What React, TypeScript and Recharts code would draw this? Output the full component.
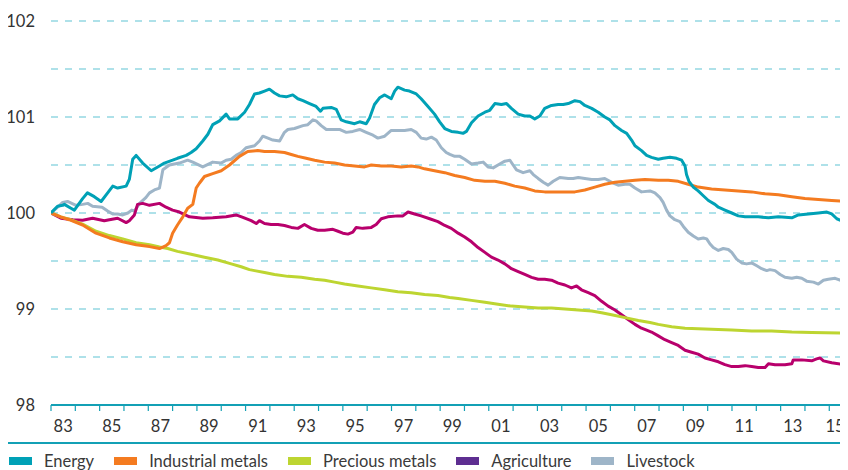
import React from 'react';
import { LineChart, Line, XAxis, YAxis, CartesianGrid, ReferenceLine } from 'recharts';

// ---- categories / axes ----
const yearTicks = [1983, 1984, 1985, 1986, 1987, 1988, 1989, 1990, 1991, 1992, 1993, 1994, 1995, 1996, 1997, 1998, 1999, 2000, 2001, 2002, 2003, 2004, 2005, 2006, 2007, 2008, 2009, 2010, 2011, 2012, 2013, 2014, 2015];
const yearLabels = ['83', '85', '87', '89', '91', '93', '95', '97', '99', '01', '03', '05', '07', '09', '11', '13', '15'];
const labelYears = [1983, 1985, 1987, 1989, 1991, 1993, 1995, 1997, 1999, 2001, 2003, 2005, 2007, 2009, 2011, 2013, 2015];
const yTicks = [98, 98.5, 99, 99.5, 100, 100.5, 101, 101.5, 102];
const gridValues = [98.5, 99, 99.5, 100, 100.5, 101, 101.5, 102];
const xDomain: [number, number] = [1983, 2015.77];
const yDomain: [number, number] = [98, 102];

// ---- series (year, index) ----
const energy: [number, number][] = [[1983.0,100.0],[1983.27,100.07],[1983.48,100.08],[1983.55,100.09],[1983.82,100.05],[1983.96,100.03],[1984.3,100.15],[1984.5,100.21],[1984.78,100.17],[1985.06,100.12],[1985.33,100.21],[1985.54,100.28],[1985.74,100.26],[1986.09,100.28],[1986.22,100.35],[1986.36,100.56],[1986.5,100.60],[1986.77,100.52],[1987.12,100.44],[1987.46,100.49],[1987.66,100.52],[1988.0,100.55],[1988.2,100.57],[1988.56,100.60],[1988.76,100.63],[1988.97,100.67],[1989.24,100.75],[1989.45,100.82],[1989.65,100.92],[1989.93,100.96],[1990.2,101.03],[1990.34,100.98],[1990.68,100.98],[1990.96,101.05],[1991.16,101.13],[1991.37,101.24],[1991.57,101.25],[1991.78,101.27],[1991.98,101.29],[1992.19,101.25],[1992.4,101.22],[1992.67,101.21],[1992.94,101.23],[1993.15,101.19],[1993.36,101.17],[1993.63,101.14],[1993.9,101.11],[1994.08,101.06],[1994.18,101.09],[1994.52,101.10],[1994.73,101.08],[1994.93,100.97],[1995.14,100.95],[1995.48,100.93],[1995.69,100.95],[1995.96,100.93],[1996.1,100.99],[1996.3,101.13],[1996.51,101.2],[1996.72,101.23],[1996.99,101.19],[1997.13,101.27],[1997.26,101.31],[1997.54,101.28],[1997.74,101.27],[1998.02,101.24],[1998.22,101.19],[1998.5,101.11],[1998.77,101.03],[1998.98,100.95],[1999.19,100.88],[1999.46,100.85],[1999.74,100.84],[1999.94,100.83],[2000.08,100.85],[2000.29,100.94],[2000.56,101.01],[2000.84,101.05],[2001.04,101.07],[2001.25,101.14],[2001.52,101.13],[2001.73,101.14],[2001.93,101.09],[2002.21,101.03],[2002.48,101.01],[2002.69,101.01],[2002.89,100.98],[2003.1,101.01],[2003.3,101.09],[2003.58,101.12],[2003.85,101.13],[2004.06,101.13],[2004.27,101.14],[2004.54,101.17],[2004.75,101.16],[2004.95,101.12],[2005.23,101.09],[2005.5,101.05],[2005.77,101.0],[2005.98,100.97],[2006.19,100.91],[2006.46,100.86],[2006.67,100.83],[2006.87,100.76],[2007.01,100.7],[2007.28,100.65],[2007.49,100.6],[2007.69,100.58],[2007.97,100.56],[2008.17,100.57],[2008.45,100.58],[2008.72,100.57],[2008.93,100.55],[2009.07,100.49],[2009.13,100.40],[2009.23,100.33],[2009.41,100.27],[2009.61,100.23],[2009.82,100.18],[2010.03,100.13],[2010.3,100.09],[2010.44,100.06],[2010.71,100.03],[2010.99,100.0],[2011.26,99.97],[2011.54,99.96],[2012.08,99.96],[2012.5,99.95],[2012.91,99.96],[2013.46,99.95],[2013.73,99.98],[2014.14,99.99],[2014.55,100.0],[2014.9,100.01],[2015.1,99.99],[2015.31,99.94],[2015.51,99.92],[2015.65,99.92]];

const industrialMetals: [number, number][] = [[1983.0,100.0],[1983.4,99.96],[1983.75,99.93],[1984.3,99.875],[1984.85,99.79],[1985.4,99.74],[1985.95,99.70],[1986.5,99.67],[1987.05,99.65],[1987.46,99.63],[1987.73,99.66],[1987.87,99.69],[1988.0,99.79],[1988.2,99.875],[1988.42,99.96],[1988.62,100.05],[1988.83,100.09],[1988.97,100.26],[1989.1,100.31],[1989.31,100.38],[1989.65,100.41],[1990.0,100.44],[1990.34,100.50],[1990.75,100.59],[1991.09,100.64],[1991.5,100.65],[1991.78,100.64],[1992.19,100.64],[1992.6,100.63],[1992.88,100.61],[1993.15,100.59],[1993.49,100.57],[1993.84,100.55],[1994.25,100.53],[1994.66,100.52],[1995.07,100.50],[1995.48,100.49],[1995.89,100.48],[1996.17,100.50],[1996.58,100.49],[1996.99,100.49],[1997.4,100.48],[1997.81,100.49],[1998.09,100.48],[1998.36,100.46],[1998.77,100.44],[1999.19,100.42],[1999.6,100.39],[2000.01,100.37],[2000.42,100.34],[2000.84,100.33],[2001.25,100.33],[2001.66,100.31],[2002.07,100.28],[2002.48,100.26],[2002.89,100.23],[2003.3,100.22],[2003.72,100.22],[2004.13,100.22],[2004.54,100.22],[2004.95,100.24],[2005.36,100.27],[2005.77,100.30],[2006.19,100.32],[2006.6,100.33],[2007.01,100.34],[2007.42,100.35],[2007.97,100.34],[2008.38,100.34],[2008.79,100.33],[2009.2,100.30],[2009.61,100.27],[2010.16,100.25],[2010.71,100.24],[2011.26,100.23],[2011.81,100.22],[2012.36,100.20],[2012.91,100.19],[2013.46,100.17],[2014.0,100.15],[2014.55,100.14],[2015.1,100.13],[2015.65,100.12]];

const preciousMetals: [number, number][] = [[1983.0,100.0],[1983.4,99.96],[1983.75,99.935],[1984.3,99.885],[1984.85,99.81],[1985.4,99.765],[1985.95,99.73],[1986.5,99.69],[1987.05,99.67],[1987.46,99.645],[1987.8,99.63],[1988.2,99.60],[1988.76,99.57],[1989.31,99.54],[1989.86,99.51],[1990.41,99.47],[1990.82,99.44],[1991.16,99.41],[1991.37,99.40],[1991.78,99.38],[1992.19,99.36],[1992.74,99.34],[1993.29,99.33],[1993.84,99.31],[1994.25,99.30],[1994.66,99.28],[1995.07,99.26],[1995.62,99.24],[1996.17,99.22],[1996.72,99.20],[1997.26,99.18],[1997.81,99.17],[1998.36,99.15],[1998.91,99.14],[1999.39,99.12],[1999.74,99.11],[2000.29,99.09],[2000.84,99.07],[2001.38,99.05],[2001.93,99.03],[2002.48,99.02],[2003.03,99.01],[2003.58,99.01],[2004.13,99.0],[2004.68,98.99],[2005.23,98.98],[2005.64,98.96],[2006.05,98.94],[2006.6,98.91],[2007.15,98.88],[2007.63,98.86],[2007.97,98.84],[2008.52,98.815],[2009.07,98.80],[2009.61,98.795],[2010.16,98.79],[2010.99,98.78],[2011.81,98.77],[2012.63,98.77],[2013.46,98.76],[2014.28,98.755],[2015.65,98.75]];

const agriculture: [number, number][] = [[1983.0,100.0],[1983.41,99.945],[1983.9,99.93],[1984.3,99.925],[1984.71,99.945],[1985.19,99.92],[1985.4,99.93],[1985.74,99.945],[1986.09,99.90],[1986.22,99.92],[1986.43,99.98],[1986.56,100.09],[1986.77,100.10],[1987.05,100.08],[1987.46,100.10],[1987.73,100.06],[1988.0,100.03],[1988.28,100.01],[1988.69,99.96],[1989.24,99.945],[1989.65,99.95],[1990.2,99.96],[1990.61,99.98],[1990.89,99.955],[1991.23,99.92],[1991.44,99.89],[1991.57,99.92],[1991.78,99.89],[1992.05,99.88],[1992.33,99.88],[1992.6,99.87],[1992.88,99.85],[1993.15,99.84],[1993.42,99.88],[1993.7,99.84],[1993.97,99.82],[1994.25,99.82],[1994.59,99.83],[1994.8,99.81],[1995.0,99.79],[1995.21,99.78],[1995.41,99.80],[1995.55,99.85],[1995.82,99.84],[1996.17,99.85],[1996.37,99.88],[1996.58,99.94],[1996.85,99.96],[1997.26,99.97],[1997.47,99.97],[1997.68,100.01],[1997.95,99.99],[1998.22,99.97],[1998.57,99.94],[1998.91,99.91],[1999.19,99.87],[1999.46,99.84],[1999.74,99.79],[2000.01,99.75],[2000.29,99.70],[2000.56,99.64],[2000.84,99.59],[2001.11,99.54],[2001.38,99.51],[2001.66,99.47],[2001.93,99.42],[2002.21,99.39],[2002.48,99.36],[2002.76,99.33],[2003.03,99.31],[2003.3,99.31],[2003.58,99.30],[2003.85,99.27],[2004.13,99.25],[2004.4,99.22],[2004.61,99.24],[2004.81,99.20],[2005.09,99.17],[2005.36,99.14],[2005.64,99.08],[2005.91,99.03],[2006.19,98.99],[2006.46,98.94],[2006.73,98.89],[2007.01,98.84],[2007.28,98.80],[2007.49,98.78],[2007.69,98.76],[2007.97,98.72],[2008.24,98.68],[2008.52,98.65],[2008.79,98.62],[2009.07,98.57],[2009.34,98.55],[2009.61,98.53],[2009.89,98.49],[2010.16,98.47],[2010.44,98.45],[2010.71,98.42],[2010.99,98.40],[2011.26,98.40],[2011.54,98.41],[2011.81,98.40],[2012.08,98.39],[2012.36,98.39],[2012.5,98.43],[2012.77,98.42],[2013.18,98.42],[2013.46,98.43],[2013.52,98.47],[2013.87,98.47],[2014.28,98.46],[2014.48,98.48],[2014.62,98.49],[2014.76,98.46],[2015.1,98.44],[2015.65,98.42]];

const livestock: [number, number][] = [[1983.0,100.0],[1983.27,100.06],[1983.48,100.11],[1983.68,100.12],[1984.03,100.08],[1984.3,100.09],[1984.51,100.10],[1984.71,100.07],[1985.1,100.06],[1985.33,100.02],[1985.54,99.99],[1985.74,99.99],[1985.95,99.98],[1986.16,100.0],[1986.32,100.03],[1986.43,100.02],[1986.64,100.10],[1986.9,100.16],[1987.05,100.21],[1987.25,100.24],[1987.46,100.26],[1987.6,100.45],[1987.87,100.50],[1988.28,100.52],[1988.62,100.55],[1988.83,100.53],[1989.24,100.48],[1989.65,100.53],[1989.99,100.52],[1990.2,100.55],[1990.41,100.56],[1990.61,100.60],[1990.82,100.63],[1991.02,100.68],[1991.37,100.70],[1991.57,100.75],[1991.71,100.80],[1991.92,100.78],[1992.12,100.76],[1992.4,100.75],[1992.6,100.84],[1992.74,100.87],[1993.01,100.88],[1993.36,100.91],[1993.56,100.92],[1993.77,100.97],[1993.9,100.96],[1994.11,100.91],[1994.32,100.87],[1994.59,100.87],[1994.86,100.87],[1995.14,100.84],[1995.41,100.85],[1995.69,100.87],[1995.96,100.84],[1996.24,100.81],[1996.44,100.78],[1996.72,100.80],[1996.99,100.86],[1997.26,100.86],[1997.54,100.86],[1997.81,100.87],[1998.02,100.84],[1998.22,100.78],[1998.43,100.77],[1998.64,100.79],[1998.84,100.76],[1999.05,100.68],[1999.25,100.63],[1999.4,100.61],[1999.6,100.59],[1999.81,100.59],[2000.01,100.56],[2000.29,100.51],[2000.56,100.52],[2000.77,100.53],[2000.97,100.48],[2001.18,100.47],[2001.45,100.51],[2001.66,100.54],[2001.87,100.55],[2002.0,100.50],[2002.14,100.45],[2002.41,100.42],[2002.69,100.44],[2002.83,100.40],[2003.03,100.36],[2003.24,100.32],[2003.44,100.29],[2003.65,100.33],[2003.92,100.37],[2004.27,100.36],[2004.47,100.36],[2004.68,100.37],[2004.95,100.36],[2005.23,100.35],[2005.5,100.35],[2005.77,100.36],[2006.05,100.32],[2006.32,100.29],[2006.6,100.30],[2006.8,100.30],[2007.01,100.26],[2007.28,100.22],[2007.63,100.23],[2007.83,100.21],[2008.04,100.16],[2008.17,100.11],[2008.31,100.03],[2008.45,99.97],[2008.65,99.93],[2008.86,99.91],[2009.0,99.86],[2009.2,99.80],[2009.41,99.76],[2009.61,99.73],[2009.82,99.74],[2009.96,99.73],[2010.09,99.68],[2010.23,99.64],[2010.44,99.61],[2010.64,99.63],[2010.85,99.62],[2010.99,99.59],[2011.19,99.52],[2011.4,99.48],[2011.6,99.47],[2011.81,99.48],[2012.02,99.45],[2012.22,99.42],[2012.43,99.40],[2012.56,99.41],[2012.77,99.40],[2012.98,99.36],[2013.18,99.33],[2013.46,99.32],[2013.66,99.33],[2013.87,99.32],[2014.07,99.29],[2014.35,99.28],[2014.55,99.26],[2014.76,99.30],[2014.96,99.31],[2015.24,99.32],[2015.44,99.30],[2015.65,99.34]];

// ---- legend ----
const legendNames = ['Energy', 'Industrial metals', 'Precious metals', 'Agriculture', 'Livestock'];
const legendColors = ['#00a1b6', '#f47b20', '#bdd531', '#5e2e91', '#9eb5c8'];

const FONT = 'Lato, "Open Sans", sans-serif';
const TEAL = '#13a0b5';
const CHART_W = 848;
const CHART_H = 430;
const Y_W = 51;
const PX_PER_YEAR = (CHART_W - Y_W) / (xDomain[1] - xDomain[0]);

const toPoints = (arr: [number, number][]) => arr.map(([x, v]) => ({ x, v }));

const series = [
  { name: 'Livestock', data: toPoints(livestock), color: '#9eb5c8' },
  { name: 'Agriculture', data: toPoints(agriculture), color: '#b8006c' },
  { name: 'Precious metals', data: toPoints(preciousMetals), color: '#bdd531' },
  { name: 'Industrial metals', data: toPoints(industrialMetals), color: '#f47b20' },
  { name: 'Energy', data: toPoints(energy), color: '#00a1b6' },
];

// Label for a year is centred in that year's interval (between two year ticks)
const YearLabel = (props: any) => {
  const { x, y, payload } = props;
  const idx = labelYears.indexOf(payload.value);
  if (idx < 0) return <g />;
  const half = 13;
  const cx = Math.min(x + PX_PER_YEAR / 2, CHART_W - half);
  return (
    <text x={cx} y={y} dy="0.71em" textAnchor="middle" fontSize={16.5} fill="#333333" fontFamily={FONT}>
      {yearLabels[idx]}
    </text>
  );
};

const ChartLegend = () => (
  <div style={{ width: CHART_W - 8, marginLeft: 8, height: 32, fontFamily: FONT, paddingTop: 4, boxSizing: 'border-box' }}>
    <div style={{ height: 2, background: TEAL }} />
    <div style={{ display: 'flex', alignItems: 'center', paddingTop: 9, height: 25, boxSizing: 'border-box', paddingLeft: 1 }}>
      {legendNames.map((n, i) => (
        <div key={n} style={{ display: 'flex', alignItems: 'center', marginRight: 20 }}>
          <span style={{ display: 'inline-block', width: 23, height: 8, background: legendColors[i], marginRight: 12 }} />
          <span style={{ fontSize: 16.5, lineHeight: '16px', color: '#3a3a3a', whiteSpace: 'nowrap' }}>{n}</span>
        </div>
      ))}
    </div>
  </div>
);

export default function App() {
  return (
    <div style={{ width: CHART_W, marginLeft: -8, fontFamily: FONT }}>
      <LineChart width={CHART_W} height={CHART_H} margin={{ top: 13, right: 0, bottom: 0, left: 0 }}>
        <CartesianGrid vertical={false} horizontalValues={gridValues} stroke="#5ec3d4" strokeDasharray="7 7" strokeWidth={1.2} />
        <XAxis
          type="number"
          dataKey="x"
          domain={xDomain}
          ticks={yearTicks}
          interval={0}
          allowDataOverflow
          tick={<YearLabel />}
          tickSize={6}
          tickMargin={9}
          tickLine={{ stroke: TEAL, strokeWidth: 1.2 }}
          axisLine={{ stroke: TEAL, strokeWidth: 2 }}
          height={33}
        />
        <YAxis
          type="number"
          domain={yDomain}
          ticks={yTicks}
          interval={0}
          width={Y_W}
          axisLine={false}
          tickLine={false}
          tickMargin={10}
          tickFormatter={(v: number) => (Number.isInteger(v) ? String(v) : '')}
          tick={{ fontSize: 16.5, fill: '#333333', fontFamily: FONT }}
        />
        <ReferenceLine y={yDomain[0]} stroke={TEAL} strokeWidth={2} />
        {series.map((s) => (
          <Line
            key={s.name}
            data={s.data}
            dataKey="v"
            name={s.name}
            type="linear"
            stroke={s.color}
            strokeWidth={3}
            dot={false}
            activeDot={false}
            isAnimationActive={false}
            strokeLinejoin="round"
          />
        ))}
      </LineChart>
      <ChartLegend />
    </div>
  );
}
